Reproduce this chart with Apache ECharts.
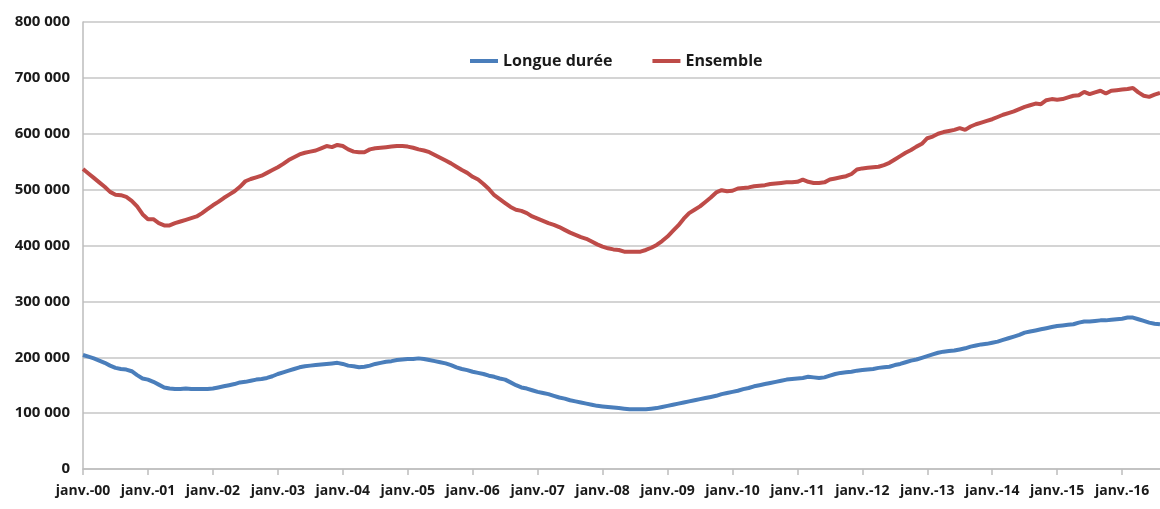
<!DOCTYPE html>
<html>
<head>
<meta charset="utf-8">
<script src="https://cdn.jsdelivr.net/npm/echarts@6/dist/echarts.min.js"></script>
<style>
  html, body { margin: 0; padding: 0; background: #fff; }
  #chart { width: 1160px; height: 509px; }
</style>
</head>
<body>
<div id="chart"></div>
<script>
// mois (labels de l'axe), série mensuelle janv. 2000 -> août 2016
var monthNames = ['janv.', 'févr.', 'mars', 'avr.', 'mai', 'juin', 'juil.', 'août', 'sept.', 'oct.', 'nov.', 'déc.'];
var years = ['00', '01', '02', '03', '04', '05', '06', '07', '08', '09', '10', '11', '12', '13', '14', '15', '16'];
var monthCount = 200;

var seriesNames = ['Longue durée', 'Ensemble'];

var longueDuree = [
  204000, 201000, 198000, 194000, 190000, 185000, 181000, 179000, 178000, 175000, 168000, 162000,
  160000, 156000, 151000, 146000, 144000, 143000, 143000, 144000, 143000, 143000, 143000, 143000,
  144000, 146000, 148000, 150000, 152000, 155000, 156000, 158000, 160000, 161000, 163000, 166000,
  170000, 173000, 176000, 179000, 182000, 184000, 185000, 186000, 187000, 188000, 189000, 190000,
  188000, 185000, 184000, 182000, 183000, 185000, 188000, 190000, 192000, 193000, 195000, 196000,
  197000, 197000, 198000, 197000, 195000, 193000, 191000, 189000, 186000, 182000, 179000, 177000,
  174000, 172000, 170000, 167000, 165000, 162000, 160000, 155000, 150000, 146000, 144000, 141000,
  138000, 136000, 134000, 131000, 128000, 126000, 123000, 121000, 119000, 117000, 115000, 113000,
  112000, 111000, 110000, 109000, 108000, 107000, 107000, 107000, 107000, 108000, 109000, 111000,
  113000, 115000, 117000, 119000, 121000, 123000, 125000, 127000, 129000, 131000, 134000, 136000,
  138000, 140000, 143000, 145000, 148000, 150000, 152000, 154000, 156000, 158000, 160000, 161000,
  162000, 163000, 165000, 164000, 163000, 164000, 167000, 170000, 172000, 173000, 174000, 176000,
  177000, 178000, 179000, 181000, 182000, 183000, 186000, 188000, 191000, 194000, 196000, 199000,
  202000, 205000, 208000, 210000, 211000, 212000, 214000, 216000, 219000, 221000, 223000, 224000,
  226000, 228000, 231000, 234000, 237000, 240000, 244000, 246000, 248000, 250000, 252000, 254000,
  256000, 257000, 258000, 259000, 262000, 264000, 264000, 265000, 266000, 266000, 267000, 268000,
  269000, 271000, 271000, 268000, 265000, 262000, 260000, 259000
];

var ensemble = [
  537000, 529000, 521000, 513000, 505000, 496000, 491000, 490000, 487000, 480000, 470000, 456000,
  447000, 447000, 440000, 436000, 436000, 440000, 443000, 446000, 449000, 452000, 458000, 465000,
  472000, 478000, 485000, 491000, 497000, 505000, 515000, 519000, 522000, 525000, 530000, 535000,
  540000, 546000, 553000, 558000, 563000, 566000, 568000, 570000, 574000, 578000, 576000, 580000,
  578000, 572000, 568000, 567000, 567000, 572000, 574000, 575000, 576000, 577000, 578000, 578000,
  577000, 575000, 572000, 570000, 567000, 562000, 557000, 552000, 547000, 541000, 535000, 530000,
  523000, 518000, 510000, 501000, 490000, 483000, 476000, 469000, 464000, 462000, 458000, 452000,
  448000, 444000, 440000, 437000, 433000, 428000, 423000, 419000, 415000, 412000, 407000, 402000,
  398000, 395000, 393000, 392000, 389000, 389000, 389000, 389000, 392000, 396000, 401000, 408000,
  416000, 426000, 436000, 448000, 458000, 464000, 470000, 478000, 486000, 495000, 499000, 497000,
  498000, 502000, 503000, 504000, 506000, 507000, 508000, 510000, 511000, 512000, 513000, 513000,
  514000, 518000, 514000, 512000, 512000, 513000, 518000, 520000, 522000, 524000, 528000, 536000,
  538000, 539000, 540000, 541000, 544000, 548000, 554000, 560000, 566000, 571000, 577000, 582000,
  592000, 595000, 600000, 603000, 605000, 607000, 610000, 607000, 613000, 617000, 620000, 623000,
  626000, 630000, 634000, 637000, 640000, 644000, 648000, 651000, 654000, 653000, 660000, 662000,
  661000, 662000, 665000, 668000, 669000, 675000, 671000, 674000, 677000, 672000, 677000, 678000,
  679000, 680000, 682000, 674000, 668000, 666000, 670000, 673000
];

var categories = [];
for (var i = 0; i < monthCount; i++) {
  categories.push(monthNames[i % 12] + '-' + years[Math.floor(i / 12)]);
}

function isJanuary(index) {
  return index % 12 === 0;
}

var labelFont = "'Open Sans', 'Noto Sans', sans-serif";

var myChart = echarts.init(document.getElementById('chart'));
myChart.setOption({
  animation: false,
  backgroundColor: '#fff',
  color: ['#4a7ebb', '#be4b48'],
  legend: {
    data: seriesNames,
    left: 465,
    top: 48,
    itemWidth: 28,
    itemHeight: 4,
    itemGap: 40,
    icon: 'rect',
    textStyle: {
      fontFamily: labelFont,
      fontWeight: 'bold',
      fontSize: 16,
      color: '#1a1a1a'
    }
  },
  grid: {
    left: 83,
    right: 0,
    top: 22,
    bottom: 40
  },
  xAxis: {
    type: 'category',
    boundaryGap: false,
    data: categories,
    axisLine: {
      lineStyle: { color: '#bdbdbd', width: 1.5 }
    },
    axisTick: {
      interval: isJanuary,
      length: 6,
      lineStyle: { color: '#bdbdbd', width: 1.5 }
    },
    axisLabel: {
      interval: isJanuary,
      margin: 15,
      fontFamily: labelFont,
      fontWeight: 'bold',
      fontSize: 14,
      color: '#1a1a1a'
    },
    splitLine: { show: false }
  },
  yAxis: {
    type: 'value',
    min: 0,
    max: 800000,
    interval: 100000,
    axisLine: {
      show: true,
      lineStyle: { color: '#bdbdbd', width: 1.5 }
    },
    axisTick: { show: false },
    axisLabel: {
      margin: 13,
      fontFamily: labelFont,
      fontWeight: 'bold',
      fontSize: 15,
      color: '#1a1a1a',
      formatter: function (v) {
        return String(v).replace(/\B(?=(\d{3})+(?!\d))/g, ' ');
      }
    },
    splitLine: {
      lineStyle: { color: '#c6c6c6', width: 1.5 }
    }
  },
  series: [
    {
      name: seriesNames[0],
      type: 'line',
      data: longueDuree,
      showSymbol: false,
      symbol: 'none',
      lineStyle: { width: 4 }
    },
    {
      name: seriesNames[1],
      type: 'line',
      data: ensemble,
      showSymbol: false,
      symbol: 'none',
      lineStyle: { width: 4 }
    }
  ]
});
</script>
</body>
</html>
